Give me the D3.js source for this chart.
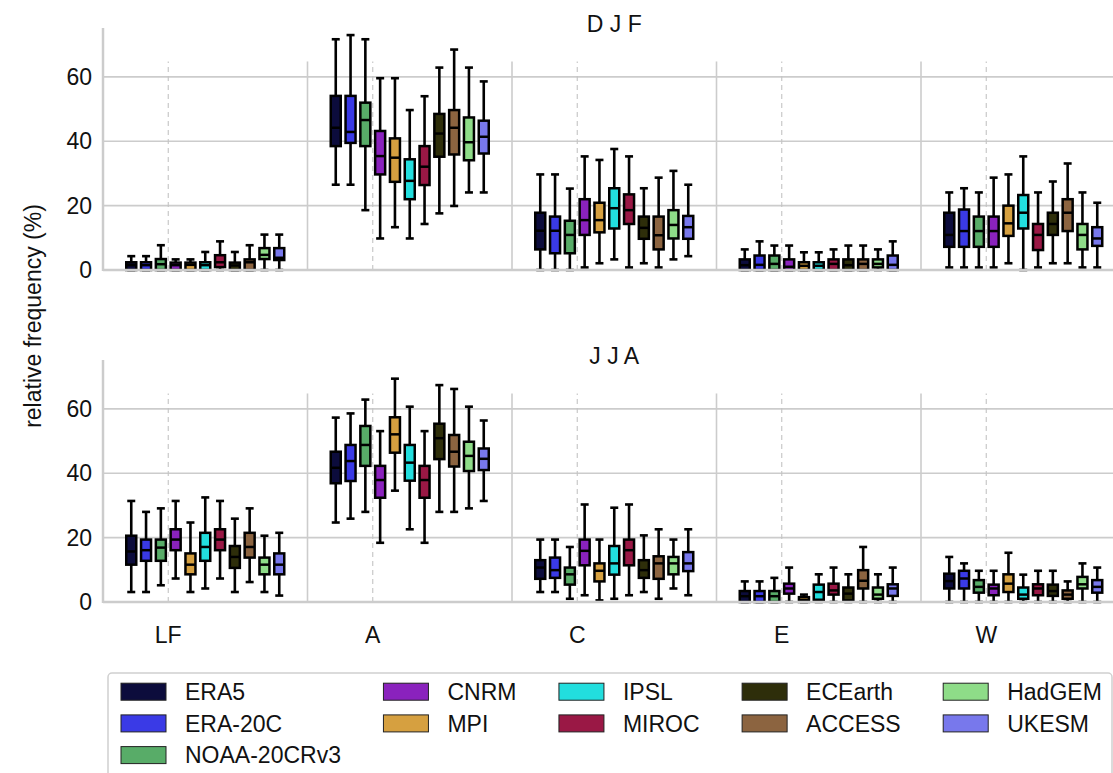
<!DOCTYPE html>
<html>
<head>
<meta charset="utf-8">
<script src="https://cdn.jsdelivr.net/npm/d3@7"></script>
<style>
  body { margin: 0; background: #fff; }
  svg { display: block; font-family: "Liberation Sans", Arial, sans-serif; }
</style>
</head>
<body>
<div id="chart"></div>
<script>
// categories on the x axis and the models (hue)
const categories = ["LF", "A", "C", "E", "W"];
const models = ["ERA5", "ERA-20C", "NOAA-20CRv3", "CNRM", "MPI", "IPSL", "MIROC", "ECEarth", "ACCESS", "HadGEM", "UKESM"];
const colors = ["#0c0c3c", "#3a3ae6", "#58ac68", "#8a22bd", "#d6a040", "#22dede", "#9a1845", "#2e2e0a", "#8c6440", "#8edc88", "#7878ec"];
const seasons = ["D J F", "J J A"];
const yTicks = [0, 20, 40, 60];

// box stats per model: [low whisker, q1, median, q3, high whisker]
const djfLF = [[0,0,1.5,2.4,4.3],[0,0,1.5,2.4,4.3],[0,0,1.8,3.4,7.7],[0,0,1.5,2.3,3.3],[0,0,1.6,2.3,3.3],[0,0,1.5,2.4,5.6],
  [0,0.9,2.4,4.6,8.9],[0,0,1.4,2.3,5.6],[0,0,2.4,3.3,7.7],[0,3.4,4.7,6.8,11],[0,3.1,3.8,6.8,11]];
const djfA = [[26.5,38.5,44.2,54.1,71.7],[26.5,39.5,42.9,54.1,73],[18.6,38.5,46.6,52,71.7],[9.8,29.7,35.4,43.2,59.6],
  [13.3,27.4,34.9,40.9,59.6],[9.8,22,27.7,34.4,49.7],[14.3,26.4,32.1,38.5,54],[17.6,35.2,42.4,48.5,62.9],
  [19.9,35.9,44.2,49.7,68.5],[24.1,34.1,39.7,47.4,62.9],[24.1,36.2,41.4,46.4,58.6]];
const djfC = [[0,6.4,12.2,17.8,29.7],[0,5.2,12.2,16.6,29.7],[0,5.2,10.9,15.3,25.3],[0.8,10.9,15.5,22,35.3],
  [2.1,11.7,15.5,20.9,34.2],[3.3,12.9,19.2,25.4,37.6],[0.8,14.3,18.6,23.5,35.3],[2.1,9.7,13.1,16.6,25.4],
  [0.8,6.4,10.8,16.6,28.7],[3.3,9.8,14,18.6,30.8],[4.3,9.7,13.3,16.8,26.5]];
const djfE = [[0,0,1.5,3.3,6.4],[0,0,1.6,4.5,8.9],[0,0,1.9,4.5,7.6],[0,0,1.0,3.3,7.6],[0,0,1.3,2.4,5.5],[0,0,1.3,2.4,5.5],
  [0,0,1.9,3.3,6.4],[0,0,1.5,3.3,7.6],[0,0,1.9,3.3,7.6],[0,0.8,1.9,3.3,6.4],[0,0,1.6,4.5,8.9]];
const djfW = [[0.8,7.2,10.9,17.8,24.1],[0.8,7.2,12.1,18.8,25.4],[0.8,7.2,12.1,16.6,24.1],[0.8,7.2,12.1,16.6,28.7],
  [2.1,10.6,14.5,20,29.7],[0,12.9,17.8,23.3,35.3],[0.8,6.2,10.9,14.3,24.1],[2.1,10.9,14.3,17.8,27.5],
  [2.1,12.1,17.8,22,33.1],[0.8,6.4,10.9,14.3,24.1],[0.8,7.5,9.8,13.3,20.9]];

const jjaLF = [[3.1,11.6,15.7,20.6,31.4],[3.1,12.8,16.1,19.4,28],[5.2,12.8,16.9,19.4,29.1],[7.3,16.1,19.4,22.6,31.4],
  [3.1,8.6,11.6,15.1,24.7],[4.2,12.8,17.1,21.5,32.5],[7.3,16.1,19.4,22.6,31.4],[3.1,10.6,14,17.4,25.9],
  [6.2,13.8,17.1,21.5,29.1],[3.1,8.6,11.6,13.8,20.6],[2,8.6,11.6,15.1,21.5]];
const jjaA = [[24.7,36.9,41.7,46.7,57.3],[25.9,37.6,43.8,48.8,58.6],[28,42.3,48.8,54.7,62.9],[18.4,32.4,37.9,42.3,53.1],
  [34.6,46.4,52.1,57.4,69.4],[22.6,37.7,43.3,48.8,60.7],[18.4,32.4,37.9,42.3,53.1],[28,44.4,50.9,55.4,67.4],
  [28,42.1,46.7,51.9,66.2],[29.1,40.7,45.4,49.8,60.7],[31.4,41,44.5,47.7,56.4]];
const jjaC = [[3.1,7.2,10.7,13,19.4],[3.1,7.5,9.9,13.8,19.4],[1,5.4,8.6,10.7,17.1],[2.1,11.4,15.9,19.4,30.3],
  [0.5,6.4,9.7,12,19.4],[1,8.5,12,17.4,29.3],[2.1,11.4,16.1,19.4,30.3],[3.1,7.5,9.9,13,20.7],
  [1,7.2,12,14.2,22.6],[4.2,8.6,12,14,19.4],[2.1,9.6,12,15.5,22.6]];
const jjaE = [[0,0,1.8,3.4,6.4],[0,0,1.8,3.4,6.4],[0,0,1.8,3.4,7.5],[0,2.6,4.2,5.7,10.7],[0,0,0.6,1.5,2.3],
  [0,0.7,3.1,5.4,8.6],[0,2.3,3.6,5.7,10.7],[0,0.5,2.6,4.5,8.6],[0,4.2,6.6,9.9,17.1],[0,1,2.3,4.5,8.6],[0,1.9,4.2,5.5,10.7]];
const jjaW = [[0,4.2,6.5,8.8,14],[0,4.2,7.3,9.7,12],[0,2.9,4.7,6.8,9.7],[0,2.1,4.2,5.4,9.7],[0,3.1,5.7,8.6,15.3],
  [0,1,2.3,4.5,8.5],[0,2.1,4.2,5.5,9.7],[0,1.9,3.4,5.4,9.7],[0,1,2.3,3.6,6.4],[0,4.2,5.5,7.8,12],[0,2.9,4.7,6.8,10.7]];

const width = 1113, height = 773;
const left = 103, right = 1125.5;
const yMax = 75.2;
const refTop = 64.8; // where the vertical reference lines stop
const tickShift = -37; // category ticks sit left of the box groups
const gridColor = "#cccccc";
const fontSize = 23;

const svg = d3.select("#chart").append("svg")
  .attr("width", width).attr("height", height)
  .attr("viewBox", [0, 0, width, height]);

const xCat = d3.scaleBand().domain(categories).range([left, right]);
const xModel = d3.scaleBand().domain(models).range([-81.4, 81.4]);
const xTick = d3.scaleBand().domain(categories).range([left + tickShift, right + tickShift]);
const boxW = 10, capW = 8;

const panels = [
  { title: seasons[0], top: 28, bottom: 270, data: [djfLF, djfA, djfC, djfE, djfW], xLabels: false },
  { title: seasons[1], top: 360, bottom: 602, data: [jjaLF, jjaA, jjaC, jjaE, jjaW], xLabels: true }
];

panels.forEach(p => {
  const y = d3.scaleLinear().domain([0, yMax]).range([p.bottom, p.top]);
  const g = svg.append("g");

  // horizontal grid
  g.selectAll(".hgrid").data(yTicks.filter(t => t > 0)).join("line")
    .attr("x1", left).attr("x2", right)
    .attr("y1", d => y(d)).attr("y2", d => y(d))
    .attr("stroke", gridColor).attr("stroke-width", 1.6);

  // separators between categories
  g.selectAll(".sep").data(categories.slice(1)).join("line")
    .attr("x1", d => xCat(d)).attr("x2", d => xCat(d))
    .attr("y1", y(0)).attr("y2", y(refTop))
    .attr("stroke", gridColor).attr("stroke-width", 1.6);

  // dashed lines at category ticks
  g.selectAll(".dash").data(categories).join("line")
    .attr("x1", d => xTick(d) + xTick.bandwidth() / 2).attr("x2", d => xTick(d) + xTick.bandwidth() / 2)
    .attr("y1", y(0)).attr("y2", y(refTop))
    .attr("stroke", "#c4c4c4").attr("stroke-width", 1.1).attr("stroke-dasharray", "5,4");

  // boxes
  categories.forEach((c, ci) => {
    const cx0 = xCat(c) + xCat.bandwidth() / 2;
    const boxes = p.data[ci].map((s, mi) => ({ s, m: models[mi], color: colors[mi],
      cx: cx0 + xModel(models[mi]) + xModel.bandwidth() / 2 }));
    const bg = g.append("g");
    bg.selectAll(".wh").data(boxes).join("line")
      .attr("x1", d => d.cx).attr("x2", d => d.cx)
      .attr("y1", d => y(d.s[0])).attr("y2", d => y(d.s[4]))
      .attr("stroke", "#000").attr("stroke-width", 2.6);
    bg.selectAll(".capLo").data(boxes).join("line")
      .attr("x1", d => d.cx - capW / 2).attr("x2", d => d.cx + capW / 2)
      .attr("y1", d => y(d.s[0])).attr("y2", d => y(d.s[0]))
      .attr("stroke", "#000").attr("stroke-width", 2.6);
    bg.selectAll(".capHi").data(boxes).join("line")
      .attr("x1", d => d.cx - capW / 2).attr("x2", d => d.cx + capW / 2)
      .attr("y1", d => y(d.s[4])).attr("y2", d => y(d.s[4]))
      .attr("stroke", "#000").attr("stroke-width", 2.6);
    bg.selectAll(".box").data(boxes).join("rect")
      .attr("x", d => d.cx - boxW / 2).attr("width", boxW)
      .attr("y", d => y(d.s[3])).attr("height", d => y(d.s[1]) - y(d.s[3]))
      .attr("fill", d => d.color).attr("stroke", "#000").attr("stroke-width", 2.5);
    bg.selectAll(".med").data(boxes).join("line")
      .attr("x1", d => d.cx - boxW / 2).attr("x2", d => d.cx + boxW / 2)
      .attr("y1", d => y(d.s[2])).attr("y2", d => y(d.s[2]))
      .attr("stroke", "#000").attr("stroke-width", 2.5);
  });

  // spines on top
  g.append("line").attr("x1", left).attr("x2", left).attr("y1", p.top).attr("y2", p.bottom + 1)
    .attr("stroke", gridColor).attr("stroke-width", 2.5);
  g.append("line").attr("x1", left).attr("x2", right).attr("y1", p.bottom).attr("y2", p.bottom)
    .attr("stroke", gridColor).attr("stroke-width", 2.5);

  // y axis labels
  const yAxis = g.append("g").attr("transform", `translate(${left},0)`)
    .call(d3.axisLeft(y).tickValues(yTicks).tickSize(0).tickPadding(11));
  yAxis.select(".domain").remove();
  yAxis.selectAll("text").attr("font-size", fontSize).attr("fill", "#111").attr("font-family", "Liberation Sans, Arial, sans-serif");

  if (p.xLabels) {
    const xAxis = g.append("g").attr("transform", `translate(0,${p.bottom})`)
      .call(d3.axisBottom(xTick).tickSize(0).tickPadding(25));
    xAxis.select(".domain").remove();
    xAxis.selectAll("text").attr("font-size", fontSize).attr("fill", "#111").attr("font-family", "Liberation Sans, Arial, sans-serif");
  }

  g.append("text").attr("x", (left + right) / 2).attr("y", p.top + 3.5)
    .attr("text-anchor", "middle").attr("font-size", fontSize).attr("fill", "#111").text(p.title);
});

// y label
svg.append("text").attr("transform", "translate(41,316) rotate(-90)")
  .attr("text-anchor", "middle").attr("font-size", fontSize).attr("fill", "#111")
  .text("relative frequency (%)");

// legend, filled column-wise, 5 columns
const colSizes = [3, 2, 2, 2, 2];
const lg = svg.append("g");
lg.append("rect").attr("x", 108).attr("y", 673).attr("width", 1004).attr("height", 130)
  .attr("rx", 4).attr("fill", "#fff").attr("stroke", "#d0d0d0").attr("stroke-width", 1.5);
let idx = 0, colX = 121;
const rowY = [691.7, 723.4, 755.1];
colSizes.forEach(n => {
  let maxW = 0;
  for (let r = 0; r < n; r++, idx++) {
    lg.append("rect").attr("x", colX).attr("y", rowY[r] - 8.5).attr("width", 45).attr("height", 17)
      .attr("fill", colors[idx]).attr("stroke", "#222").attr("stroke-width", 1);
    const t = lg.append("text").attr("x", colX + 64).attr("y", rowY[r]).attr("dy", "0.36em")
      .attr("font-size", fontSize).attr("fill", "#111").text(models[idx]);
    maxW = Math.max(maxW, t.node().getComputedTextLength());
  }
  colX = colX + 64 + maxW + 42.5;
});
</script>
</body>
</html>
